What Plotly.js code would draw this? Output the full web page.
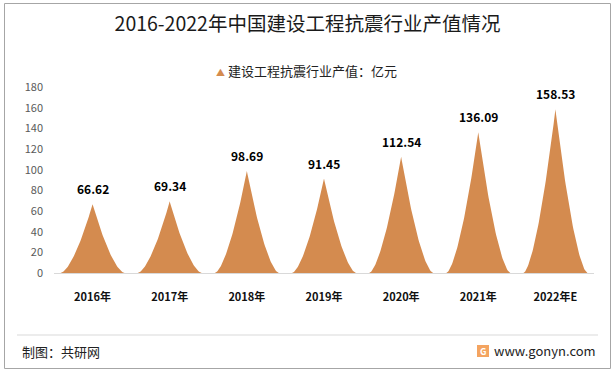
<!DOCTYPE html>
<html>
<head>
<meta charset="utf-8">
<script src="https://cdn.plot.ly/plotly-3.0.1.min.js"></script>
<style>
html,body{margin:0;padding:0;background:#fff;}
#chart{width:615px;height:373px;}
</style>
</head>
<body>
<div id="chart"></div>
<script>
const categories = ["2016年","2017年","2018年","2019年","2020年","2021年","2022年E"];
const values = [66.62, 69.34, 98.69, 91.45, 112.54, 136.09, 158.53];
const seriesName = "建设工程抗震行业产值：亿元";
const yTicks = [0,20,40,60,80,100,120,140,160,180];

const color = "#D48B4F";
const halfWidth = 0.415;
const sharp = 1.6;
const font = '"Noto Sans CJK SC", "Noto Sans", sans-serif';

const traces = [];
values.forEach((v, i) => {
  const xs = [], ys = [];
  for (let k = -50; k <= 50; k++) {
    const t = k / 50;
    xs.push(i + t * halfWidth);
    ys.push(v * Math.pow(1 - Math.abs(t), sharp));
  }
  traces.push({
    type: 'scatter', mode: 'lines', x: xs, y: ys, fill: 'toself', name: seriesName,
    fillcolor: color, line: {width: 0, color: color}, showlegend: false, hoverinfo: 'skip'
  });
});

const L = 54, R = 594, T = 87, B = 273;
const px = x => (x - L) / (R - L);
const py = y => (B - y) / (B - T);

const dataLabels = values.map((v, i) => ({
  x: i, y: v, xref: 'x', yref: 'y', xanchor: 'center', yanchor: 'bottom', yshift: 5,
  text: '<b>' + v.toFixed(2) + '</b>', showarrow: false,
  font: {family: font, size: 12, color: '#000'}
}));

const layout = {
  width: 615, height: 373,
  margin: {l: L, r: 615 - R, t: T, b: 373 - B},
  paper_bgcolor: '#fff', plot_bgcolor: 'rgba(0,0,0,0)',
  font: {family: font},
  title: {text: "2016-2022年中国建设工程抗震行业产值情况", x: 0.5, xanchor: 'center',
          y: 1 - 24/373, yanchor: 'middle', font: {family: font, size: 19.5, color: '#1a1a1a'}},
  showlegend: false,
  xaxis: {range: [-0.5, 6.5], tickvals: categories.map((c, i) => i), ticktext: categories,
          showgrid: false, zeroline: false, showline: true, linecolor: '#d9d9d9', linewidth: 1,
          ticks: '', ticklabelstandoff: 14, fixedrange: true,
          tickfont: {family: font, size: 11, color: '#111', weight: 'bold'}},
  yaxis: {range: [0, 180], tickvals: yTicks, showgrid: false, zeroline: false, showline: false,
          ticks: '', ticklabelstandoff: 10, fixedrange: true,
          tickfont: {family: font, size: 11, color: '#595959'}},
  shapes: [
    {type: 'rect', xref: 'paper', yref: 'paper', x0: px(4.5), x1: px(610.5), y0: py(368.5), y1: py(3.5),
     line: {color: '#a6a6a6', width: 1}, layer: 'below'},
    {type: 'line', xref: 'paper', yref: 'paper', x0: px(17), x1: px(598), y0: py(335), y1: py(335),
     line: {color: '#d9d9d9', width: 1}},
    {type: 'rect', xref: 'paper', yref: 'paper', x0: px(477), x1: px(489), y0: py(357), y1: py(345),
     fillcolor: '#F4A460', line: {width: 0}}
  ],
  annotations: dataLabels.concat([
    {xref: 'paper', yref: 'paper', x: px(214), y: py(70), xanchor: 'left', yanchor: 'middle',
     text: '<span style="color:' + color + ';font-size:9px">▲</span> ' + seriesName, showarrow: false,
     font: {family: font, size: 13, color: '#222'}},
    {xref: 'paper', yref: 'paper', x: px(20), y: py(351), xanchor: 'left', yanchor: 'middle',
     text: '制图：共研网', showarrow: false, font: {family: font, size: 13, color: '#222'}},
    {xref: 'paper', yref: 'paper', x: px(483), y: py(351), xanchor: 'center', yanchor: 'middle',
     text: '<b>G</b>', showarrow: false, font: {family: font, size: 9, color: '#fff'}},
    {xref: 'paper', yref: 'paper', x: px(492), y: py(350), xanchor: 'left', yanchor: 'middle',
     text: 'www.gonyn.com', showarrow: false, font: {family: font, size: 13, color: '#222'}}
  ])
};

Plotly.newPlot('chart', traces, layout, {staticPlot: true, displayModeBar: false});
</script>
</body>
</html>
